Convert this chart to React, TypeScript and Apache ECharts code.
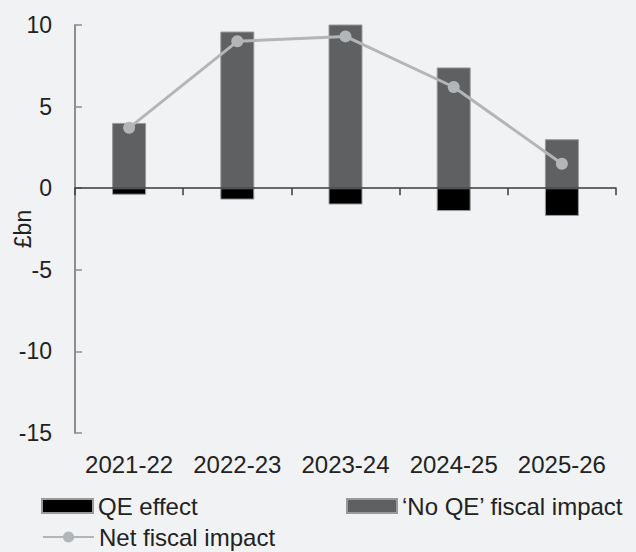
import React, { useEffect, useRef } from "react";
import * as echarts from "echarts";

const categories = ["2021-22", "2022-23", "2023-24", "2024-25", "2025-26"];
const noQeImpact = [4.0, 9.6, 10.1, 7.4, 3.0];
const qeEffect = [-0.4, -0.7, -1.0, -1.4, -1.7];
const netImpact = [3.7, 9.0, 9.3, 6.2, 1.5];
const yTicks = { min: -15, max: 10, interval: 5 };

const FONT = "'Liberation Sans', Arial, Helvetica, sans-serif";

export default function App() {
  const ref = useRef<HTMLDivElement>(null);
  useEffect(() => {
    if (!ref.current) return;
    const chart = echarts.init(ref.current, undefined, { renderer: "svg" });
    const legendText = { fontFamily: FONT, fontSize: 24, color: "#222" };
    chart.setOption({
      animation: false,
      backgroundColor: "#f1f2f4",
      textStyle: { fontFamily: FONT },
      grid: { left: 75, right: 20, top: 25, bottom: 119, outerBoundsMode: "none", containLabel: false },
      legend: [
        {
          data: [{ name: "QE effect", icon: "rect" }],
          left: 41,
          top: 494,
          padding: 0,
          itemWidth: 51,
          itemHeight: 14,
          itemGap: 5,
          textStyle: legendText,
        },
        {
          data: [{ name: "\u2018No QE\u2019 fiscal impact", icon: "rect" }],
          left: 346,
          top: 494,
          padding: 0,
          itemWidth: 50,
          itemHeight: 14,
          textStyle: legendText,
        },
        {
          data: ["Net fiscal impact"],
          left: 42,
          top: 525,
          padding: 0,
          itemWidth: 51,
          itemHeight: 14,
          textStyle: legendText,
        },
      ],
      xAxis: [
        {
          type: "category",
          data: categories,
          position: "bottom",
          axisLine: { onZero: true, lineStyle: { color: "#3a3a3a", width: 1.5 } },
          axisTick: { show: true, length: 7, lineStyle: { color: "#3a3a3a", width: 1.5 } },
          axisLabel: { show: false },
          splitLine: { show: false },
          z: 5,
        },
        {
          type: "category",
          data: categories,
          position: "bottom",
          axisLine: { show: false, onZero: false },
          axisTick: { show: false },
          axisLabel: {
            show: true,
            interval: 0,
            hideOverlap: false,
            margin: 19,
            fontSize: 24,
            color: "#222",
            fontFamily: FONT,
          },
          splitLine: { show: false },
        },
      ],
      yAxis: {
        type: "value",
        min: yTicks.min,
        max: yTicks.max,
        interval: yTicks.interval,
        name: "\u00a3bn",
        nameLocation: "middle",
        nameRotate: 90,
        nameGap: 41,
        nameMoveOverlap: false,
        nameTextStyle: { fontSize: 23, color: "#222", fontFamily: FONT },
        axisLine: { show: true, lineStyle: { color: "#8e8e8e", width: 2 } },
        axisTick: { show: true, inside: true, length: 7, lineStyle: { color: "#8e8e8e", width: 1.5 } },
        axisLabel: { margin: 23, fontSize: 23, color: "#222", fontFamily: FONT },
        splitLine: { show: false },
      },
      series: [
        {
          name: "QE effect",
          type: "bar",
          stack: "s",
          xAxisIndex: 0,
          data: qeEffect,
          barWidth: 34,
          itemStyle: { color: "#000000", borderColor: "#9a9a9a", borderWidth: 1 },
        },
        {
          name: "\u2018No QE\u2019 fiscal impact",
          type: "bar",
          stack: "s",
          xAxisIndex: 0,
          data: noQeImpact,
          barWidth: 34,
          itemStyle: { color: "#5f6062", borderColor: "#9a9a9a", borderWidth: 1 },
        },
        {
          name: "Net fiscal impact",
          type: "line",
          xAxisIndex: 0,
          data: netImpact,
          symbol: "circle",
          symbolSize: 12,
          lineStyle: { color: "#b3b6b8", width: 3 },
          itemStyle: { color: "#b3b6b8" },
          z: 10,
        },
      ],
    });
    return () => chart.dispose();
  }, []);
  return <div ref={ref} style={{ width: 636, height: 552, position: "absolute", left: 0, top: 0 }} />;
}
